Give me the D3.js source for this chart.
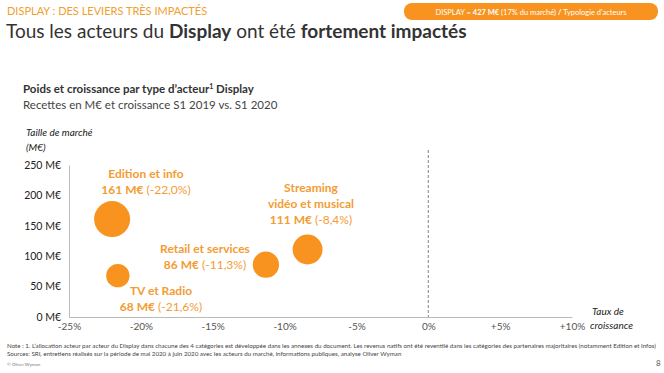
<!DOCTYPE html>
<html lang="fr">
<head>
<meta charset="utf-8">
<style>
  body { margin:0; background:#fff; }
  svg { font-family: Lato, "Open Sans", sans-serif; }
</style>
<script src="https://cdnjs.cloudflare.com/ajax/libs/d3/7.8.5/d3.min.js"></script>
</head>
<body>
<div id="chart"></div>
<script>
// data
var actors = ["Edition et info", "TV et Radio", "Retail et services", "Streaming vidéo et musical"];
var growth = [-22.0, -21.6, -11.3, -8.4];
var size = [161, 68, 86, 111];
var xTicks = [-25, -20, -15, -10, -5, 0, 5, 10];
var yTicks = [0, 50, 100, 150, 200, 250];

var W = 664, H = 373;
var orange = "#f7931e", labelOrange = "#f39c33";

var svg = d3.select("#chart").append("svg")
  .attr("width", W).attr("height", H);

var x = d3.scaleLinear().domain([-25, 10]).range([69, 572]);
var y = d3.scaleLinear().domain([0, 250]).range([317, 165]);
var r = d3.scaleSqrt().domain([0, 161]).range([0, 18]);

// header
svg.append("text").attr("x", 7).attr("y", 15)
  .attr("font-size", 11).attr("fill", "#f0a030")
  .text("DISPLAY : DES LEVIERS TRÈS IMPACTÉS");

var t = svg.append("text").attr("x", 6).attr("y", 38)
  .attr("font-size", 19).attr("fill", "#333");
t.append("tspan").text("Tous les acteurs du ");
t.append("tspan").attr("font-weight", "bold").text("Display");
t.append("tspan").text(" ont été ");
t.append("tspan").attr("font-weight", "bold").text("fortement impactés");

svg.append("rect").attr("x", 404).attr("y", 3).attr("width", 254).attr("height", 17)
  .attr("rx", 8).attr("fill", "#f7931e");
var pill = svg.append("text").attr("x", 531).attr("y", 15)
  .attr("text-anchor", "middle").attr("font-size", 7.5).attr("fill", "#fff");
pill.append("tspan").text("DISPLAY = ");
pill.append("tspan").attr("font-weight", "bold").text("427 M€");
pill.append("tspan").text(" (17% du marché) ");
pill.append("tspan").attr("font-weight", "bold").text("/");
pill.append("tspan").text(" Typologie d'acteurs");

// subtitles
var s1 = svg.append("text").attr("x", 23).attr("y", 93)
  .attr("font-size", 11.5).attr("font-weight", "bold").attr("fill", "#333");
s1.append("tspan").text("Poids et croissance par type d’acteur");
s1.append("tspan").attr("font-size", 7).attr("dy", -4).text("1");
s1.append("tspan").attr("dy", 4).text(" Display");
svg.append("text").attr("x", 23).attr("y", 109)
  .attr("font-size", 11.5).attr("fill", "#444")
  .text("Recettes en M€ et croissance S1 2019 vs. S1 2020");

svg.append("text").attr("x", 26).attr("y", 136)
  .attr("font-size", 10).attr("font-style", "italic").attr("fill", "#222")
  .text("Taille de marché");
svg.append("text").attr("x", 26).attr("y", 151)
  .attr("font-size", 10).attr("font-style", "italic").attr("fill", "#222")
  .text("(M€)");

// axes
var yAxis = svg.append("g").attr("transform", "translate(69,0)")
  .call(d3.axisLeft(y).tickValues(yTicks).tickSize(0).tickPadding(8)
    .tickFormat(function(d) { return d + " M€"; }));
var xAxis = svg.append("g").attr("transform", "translate(0,317)")
  .call(d3.axisBottom(x).tickValues(xTicks).tickSize(0).tickPadding(6)
    .tickFormat(function(d) { return (d > 0 ? "+" : "") + d + "%"; }));
[yAxis, xAxis].forEach(function(a) {
  a.select(".domain").attr("stroke", "#bbb").attr("stroke-width", 1);
  a.selectAll("text").attr("font-family", "Lato, sans-serif");
});
yAxis.selectAll("text").attr("font-size", 10.5).attr("fill", "#222");
xAxis.selectAll("text").attr("font-size", 10).attr("fill", "#555");

svg.append("line").attr("x1", x(0)).attr("x2", x(0)).attr("y1", 150).attr("y2", 317)
  .attr("stroke", "#666").attr("stroke-width", 0.8).attr("stroke-dasharray", "3,2");

svg.append("text").attr("x", 592).attr("y", 315)
  .attr("font-size", 10).attr("font-style", "italic").attr("fill", "#222").text("Taux de");
svg.append("text").attr("x", 590).attr("y", 329)
  .attr("font-size", 10).attr("font-style", "italic").attr("fill", "#222").text("croissance");

// bubbles
svg.selectAll("circle.b").data(actors).enter().append("circle")
  .attr("class", "b")
  .attr("cx", function(d, i) { return x(growth[i]); })
  .attr("cy", function(d, i) { return y(size[i]); })
  .attr("r", function(d, i) { return r(size[i]); })
  .attr("fill", orange);

// labels (name lines, anchor x, first line y)
var labelPos = [
  { lines: ["Edition et info"], cx: 146, y0: 178 },
  { lines: ["TV et Radio"], cx: 161, y0: 295 },
  { lines: ["Retail et services"], cx: 205, y0: 253 },
  { lines: ["Streaming", "vidéo et musical"], cx: 311, y0: 192 }
];
function fmt(v) { return (v < 0 ? "-" : "") + Math.abs(v).toFixed(1).replace(".", ",") + "%"; }
labelPos.forEach(function(p, i) {
  var g = svg.append("g").attr("fill", labelOrange).attr("font-size", 12).attr("text-anchor", "middle");
  p.lines.forEach(function(l, j) {
    g.append("text").attr("x", p.cx).attr("y", p.y0 + j * 16)
      .attr("font-weight", "bold").text(l);
  });
  var v = g.append("text").attr("x", p.cx).attr("y", p.y0 + p.lines.length * 16);
  v.append("tspan").attr("font-weight", "bold").text(size[i] + " M€");
  v.append("tspan").text(" (" + fmt(growth[i]) + ")");
});

// notes
var notes = [
  "Note : 1. L’allocation acteur par acteur du Display dans chacune des 4 catégories est développée dans les annexes du document. Les revenus natifs ont été reventilé dans les catégories des partenaires majoritaires (notamment Edition et Infos)",
  "Sources: SRI, entretiens réalisés sur la période de mai 2020 à juin 2020 avec les acteurs du marché, informations publiques, analyse Oliver Wyman"
];
notes.forEach(function(n, i) {
  svg.append("text").attr("x", 7).attr("y", 348 + i * 8)
    .attr("font-size", 6.2).attr("fill", "#444").text(n);
});
svg.append("text").attr("x", 7).attr("y", 366).attr("font-size", 4.5).attr("fill", "#777").text("© Oliver Wyman");
svg.append("text").attr("x", 656).attr("y", 366).attr("font-size", 8).attr("fill", "#555").text("8");
</script>
</body>
</html>
